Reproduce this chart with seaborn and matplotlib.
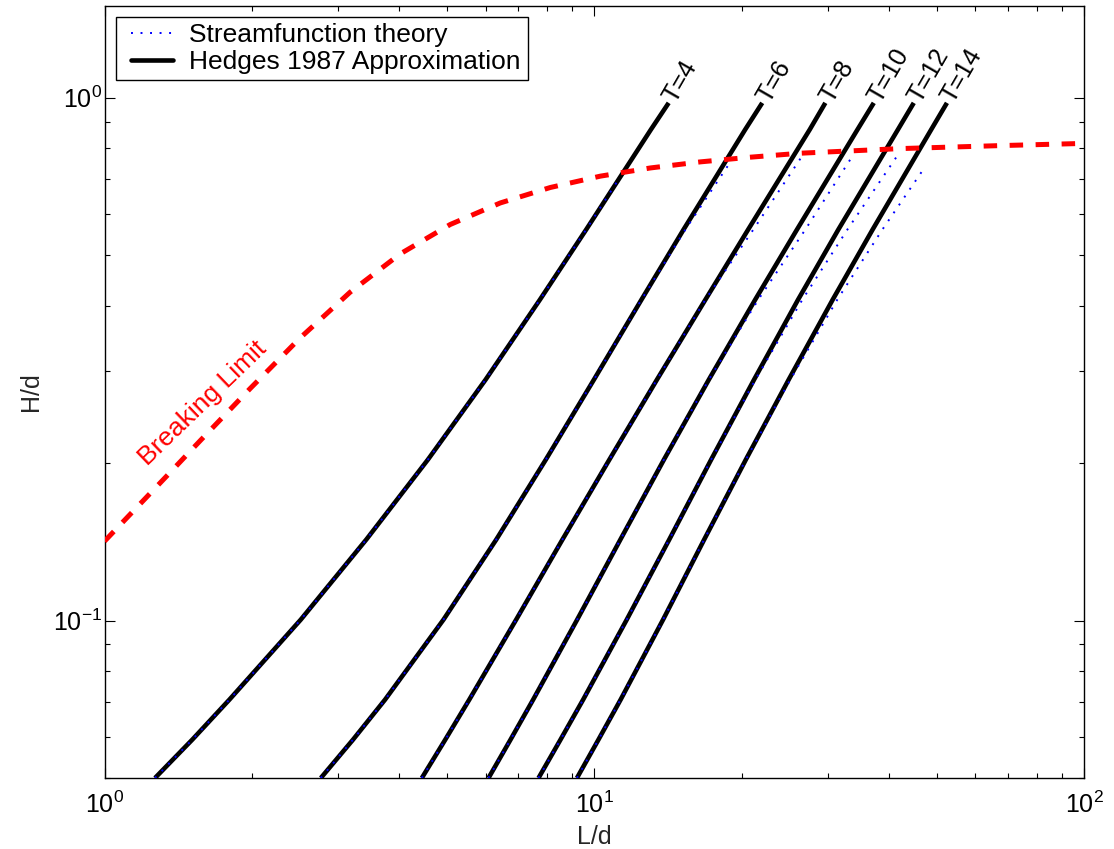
import matplotlib
matplotlib.use("Agg")
import matplotlib.pyplot as plt
from matplotlib.lines import Line2D
from matplotlib.legend_handler import HandlerLine2D
from matplotlib.ticker import LogLocator, NullFormatter
import seaborn as sns

# ---------------- data ----------------
periods = [4, 6, 8, 10, 12, 14]

# H/d levels at which the Hedges curves were read
H_levels = [0.0500, 0.0592, 0.0706, 0.1004, 0.1429, 0.2032, 0.2889, 0.4110, 0.5594, 0.8685, 0.977]

# L/d of the Hedges 1987 approximation curves, one list per period
hedges_T4 = [1.268, 1.511, 1.799, 2.516, 3.425, 4.576, 6.001, 7.749, 9.630, 13.05, 14.19]
hedges_T6 = [2.765, 3.217, 3.740, 4.922, 6.310, 7.966, 9.986, 12.49, 15.22, 20.33, 22.03]
hedges_T8 = [4.446, 4.964, 5.557, 6.927, 8.613, 10.74, 13.43, 16.87, 20.62, 27.54, 29.64]
hedges_T10 = [6.083, 6.746, 7.503, 9.228, 11.31, 13.88, 17.14, 21.32, 25.94, 34.47, 37.22]
hedges_T12 = [7.695, 8.533, 9.491, 11.65, 14.23, 17.33, 21.20, 26.08, 31.51, 41.69, 44.92]
hedges_T14 = [9.219, 10.20, 11.32, 13.82, 16.77, 20.40, 24.95, 30.69, 37.02, 48.75, 52.50]

# Streamfunction theory curves (L/d, H/d), ending near breaking
stream_T4_L = [1.268, 1.511, 1.799, 2.516, 3.425, 4.576, 6.001, 7.749, 9.630, 11.27]
stream_T4_H = [0.0500, 0.0592, 0.0706, 0.1004, 0.1429, 0.2032, 0.2889, 0.4110, 0.5594, 0.703]
stream_T6_L = [2.765, 3.217, 3.740, 4.922, 6.310, 7.966, 9.986, 12.49, 15.35, 19.11]
stream_T6_H = [0.0500, 0.0592, 0.0706, 0.1004, 0.1429, 0.2032, 0.2889, 0.4110, 0.5594, 0.7612]
stream_T8_L = [4.446, 4.964, 5.557, 6.927, 8.613, 10.74, 13.43, 16.87, 21.13, 26.69]
stream_T8_H = [0.0500, 0.0592, 0.0706, 0.1004, 0.1429, 0.2032, 0.2889, 0.4110, 0.5594, 0.778]
stream_T10_L = [6.083, 6.746, 7.503, 9.228, 11.31, 13.88, 17.14, 21.63, 26.98, 33.82]
stream_T10_H = [0.0500, 0.0592, 0.0706, 0.1004, 0.1429, 0.2032, 0.2889, 0.4110, 0.5594, 0.778]
stream_T12_L = [7.695, 8.533, 9.491, 11.65, 14.23, 17.33, 21.33, 26.61, 32.88, 41.59]
stream_T12_H = [0.0500, 0.0592, 0.0706, 0.1004, 0.1429, 0.2032, 0.2889, 0.4110, 0.5594, 0.7747]
stream_T14_L = [9.219, 10.20, 11.32, 13.82, 16.77, 20.40, 25.14, 31.36, 38.76, 47.45]
stream_T14_H = [0.0500, 0.0592, 0.0706, 0.1004, 0.1429, 0.2032, 0.2889, 0.4110, 0.5594, 0.739]

# Breaking limit
break_L = [1.0, 1.182, 1.361, 1.567, 1.983, 2.508, 3.173, 4.015, 5.080, 6.427, 8.132,
           10.29, 13.02, 16.47, 20.83, 26.36, 42.19, 67.52, 100.0]
break_H = [0.1418, 0.1671, 0.1919, 0.2206, 0.2777, 0.3470, 0.4245, 0.5024, 0.5719, 0.6288, 0.6731,
           0.7076, 0.7336, 0.7535, 0.7692, 0.7828, 0.7989, 0.8095, 0.8173]

period_labels = ["T=4", "T=6", "T=8", "T=10", "T=12", "T=14"]
legend_labels = ["Streamfunction theory", "Hedges 1987 Approximation"]
break_label = "Breaking Limit"
x_label = "L/d"
y_label = "H/d"

# ---------------- styling ----------------
sns.set_theme(style="ticks")
plt.rcParams.update({
    "font.family": ["Liberation Sans", "DejaVu Sans"],
    "mathtext.fontset": "custom",
    "mathtext.rm": "Liberation Sans",
    "mathtext.it": "Liberation Sans:italic",
    "mathtext.bf": "Liberation Sans:bold",
    "axes.edgecolor": "black",
    "axes.linewidth": 1.0,
    "axes.facecolor": "white",
    "figure.facecolor": "white",
    "xtick.direction": "in",
    "ytick.direction": "in",
    "xtick.top": True,
    "ytick.right": True,
    "xtick.color": "black",
    "ytick.color": "black",
    "text.color": "black",
})

W, H = 1114, 849
fig = plt.figure(figsize=(W / 100, H / 100), dpi=100)
ax = fig.add_axes([104.5 / W, 1 - 778 / H, (1084 - 104.5) / W, (778 - 5.5) / H])
ax.set_xscale("log")
ax.set_yscale("log")

hedges = [hedges_T4, hedges_T6, hedges_T8, hedges_T10, hedges_T12, hedges_T14]
stream_L = [stream_T4_L, stream_T6_L, stream_T8_L, stream_T10_L, stream_T12_L, stream_T14_L]
stream_H = [stream_T4_H, stream_T6_H, stream_T8_H, stream_T10_H, stream_T12_H, stream_T14_H]

BLACK_LW = 3.3
DOT_STYLE = (0, (1, 3.9))
DOT_LW = 1.4

for Ls in hedges:
    sns.lineplot(x=Ls, y=H_levels, ax=ax, color="black", linewidth=BLACK_LW,
                 sort=False, estimator=None, zorder=3, solid_capstyle="butt")

for Ls, Hs in zip(stream_L, stream_H):
    sns.lineplot(x=Ls, y=Hs, ax=ax, color="blue", linewidth=DOT_LW,
                 linestyle=DOT_STYLE, sort=False, estimator=None, zorder=4)

sns.lineplot(x=break_L, y=break_H, ax=ax, color="red", linewidth=3.6,
             linestyle=(0, (2.7, 2.5)), sort=False, estimator=None, zorder=5,
             dash_capstyle="butt")

# period labels at the top end of each Hedges curve
for Ls, lab in zip(hedges, period_labels):
    ax.text(Ls[-1] * 1.004, H_levels[-1] * 1.01, lab, rotation=60, rotation_mode="anchor",
            ha="left", va="center", fontsize=18, zorder=6)

ax.text(1.227, 0.197, break_label, color="red", rotation=44, rotation_mode="anchor",
        ha="left", va="baseline", fontsize=19, zorder=6)

ax.set_xlim(1, 100)
ax.set_ylim(0.05, 1.5)

for axis in (ax.xaxis, ax.yaxis):
    axis.set_major_locator(LogLocator(base=10, numticks=10))
    axis.set_minor_locator(LogLocator(base=10, subs=range(2, 10), numticks=20))
    axis.set_minor_formatter(NullFormatter())

ax.tick_params(which="major", length=7.2, width=0.8, labelsize=18)
ax.tick_params(which="minor", length=3.6, width=0.8)
ax.tick_params(axis="x", which="major", pad=10)
ax.tick_params(axis="y", which="major", pad=2)

ax.set_xlabel(x_label, fontsize=18, labelpad=5)
ax.set_ylabel(y_label, fontsize=18, labelpad=7)

handles = [Line2D([], [], color="blue", linewidth=DOT_LW, linestyle=DOT_STYLE),
           Line2D([], [], color="black", linewidth=BLACK_LW)]
hmap = {h: HandlerLine2D(xpad=0.32) for h in handles}
leg = ax.legend(handles, legend_labels, loc="upper left", fontsize=19, frameon=True,
                fancybox=False, edgecolor="black", framealpha=1, borderaxespad=0.42,
                borderpad=0.25, labelspacing=0.1, handlelength=1.91, handletextpad=0.64,
                handler_map=hmap)
leg.get_frame().set_linewidth(1.0)
leg.set_zorder(10)

for s in ax.spines.values():
    s.set_visible(True)
    s.set_color("black")

fig.savefig("out.png", dpi=100)
